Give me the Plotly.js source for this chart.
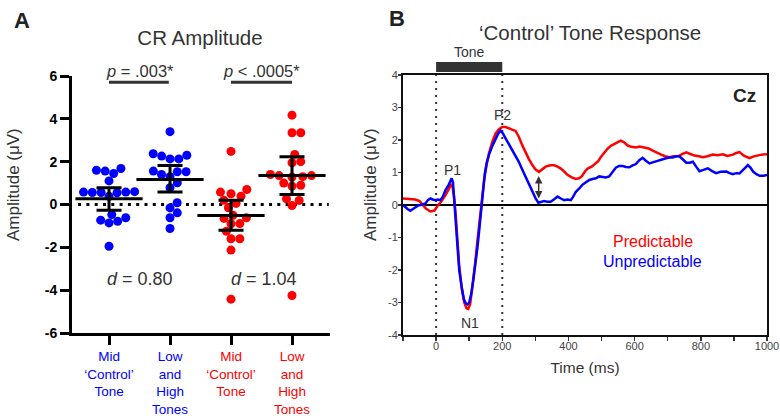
<!DOCTYPE html>
<html><head><meta charset="utf-8">
<script src="https://cdn.plot.ly/plotly-3.0.1.min.js"></script>
<style>html,body{margin:0;padding:0;background:#fff}#chart{width:780px;height:420px}</style>
</head><body><div id="chart"></div>
<script>
// ---------- Panel A data (CR Amplitude, µV) ----------
const groupTickLines = [
  ["Mid", "\u2018Control\u2019", "Tone"],
  ["Low", "and", "High", "Tones"],
  ["Mid", "\u2018Control\u2019", "Tone"],
  ["Low", "and", "High", "Tones"]
];
const groupColors = ["#0000ff", "#0000ff", "#ff0000", "#ff0000"];
const blueMid     = [1.68, 1.60, 1.56, 1.45, 1.10, 0.60, 0.58, 0.58, 0.56, 0.56, 0.55, 0.38, -0.47, -0.62, -0.73, -0.78, -0.86, -1.95];
const blueLowHigh = [3.40, 2.37, 2.30, 2.26, 2.13, 2.13, 1.56, 1.53, 1.53, 1.40, 1.30, 1.01, 0.78, 0.08, -0.16, -0.39, -0.62, -1.12];
const redMid      = [2.48, 0.70, 0.58, 0.50, 0.39, 0.20, 0.05, -0.15, -0.50, -0.62, -0.65, -0.89, -0.90, -1.25, -1.60, -1.60, -2.13, -4.42];
const redLowHigh  = [4.17, 3.35, 3.35, 2.34, 2.00, 1.95, 1.40, 1.35, 1.35, 1.30, 1.28, 1.00, 0.90, 0.86, 0.27, 0.19, -0.05, -4.25];
const groupMeans  = [0.27, 1.17, -0.51, 1.35];
const groupCILow  = [-0.27, 0.58, -1.20, 0.47];
const groupCIHigh = [0.78, 1.82, 0.20, 2.23];
const aYTicks = [-6, -4, -2, 0, 2, 4, 6];
const aYTickText = ["-6", "-4", "-2", "0", "2", "4", "6"];
const pLabels = ["<i>p</i> = .003*", "<i>p</i> < .0005*"];
const dLabels = ["<i>d</i> = 0.80", "<i>d</i> = 1.04"];

// ---------- Panel B data ('Control' tone ERP at Cz) ----------
const bYTicks = [-4, -3, -2, -1, 0, 1, 2, 3, 4];
const bYTickText = ["-4", "-3", "-2", "-1", "0", "1", "2", "3", "4"];
const predTime = [-100,-80,-63,-50,-40,-30,-17,-5,5,15,28,38,45,50,55,60,65,70,78,85,92,97,103,110,118,125,132,138,145,152,160,170,180,190,200,210,220,230,240,250,260,270,280,291,300,311,320,331,345,357,367,377,387,397,410,422,432,440,450,458,470,478,490,498,508,518,528,538,548,558,568,579,590,604,615,630,642,655,668,680,692,705,718,731,745,756,768,781,795,806,820,836,850,867,880,897,907,917,930,947,958,968,983,1000];
const predAmp  = [0.20,0.19,0.17,0.12,0.00,-0.12,-0.20,-0.17,-0.02,0.10,0.30,0.50,0.62,0.55,0.20,-0.40,-1.20,-1.90,-2.60,-3.00,-3.18,-3.20,-3.05,-2.50,-1.80,-1.10,-0.40,0.10,0.75,1.20,1.60,1.95,2.20,2.33,2.40,2.40,2.35,2.32,2.28,2.10,1.85,1.62,1.42,1.23,1.10,1.02,1.10,1.18,1.22,1.22,1.18,1.12,1.03,0.93,0.85,0.80,0.82,0.88,1.03,1.12,1.18,1.24,1.35,1.48,1.62,1.73,1.82,1.88,1.93,1.98,1.93,1.83,1.79,1.77,1.80,1.76,1.74,1.67,1.60,1.55,1.50,1.47,1.50,1.50,1.57,1.62,1.57,1.52,1.50,1.47,1.50,1.55,1.53,1.56,1.51,1.55,1.60,1.63,1.52,1.44,1.49,1.52,1.55,1.56];
const unpredTime = [-100,-92,-85,-78,-70,-63,-55,-47,-40,-32,-25,-17,-10,-2,5,13,20,28,38,44,47,51,54,58,62,66,70,77,84,90,95,100,106,112,119,125,131,136,141,147,153,160,170,180,188,195,202,210,220,230,240,250,260,270,280,291,300,309,317,326,336,346,357,367,377,387,397,407,414,422,432,442,453,463,473,483,493,503,513,523,533,543,553,564,574,584,594,604,614,624,634,645,657,670,682,695,705,715,725,735,746,756,766,776,786,796,808,821,833,846,860,877,887,897,907,917,930,942,950,958,968,978,990,1000];
const unpredAmp  = [0.00,-0.08,-0.13,-0.18,-0.12,-0.07,-0.02,0.00,0.03,0.05,0.15,0.20,0.17,0.15,0.17,0.15,0.25,0.45,0.62,0.75,0.82,0.70,0.35,-0.30,-0.90,-1.50,-2.00,-2.50,-2.90,-3.03,-3.06,-3.00,-2.75,-2.35,-1.85,-1.30,-0.70,-0.15,0.40,0.95,1.30,1.55,1.82,2.05,2.20,2.29,2.20,2.05,1.87,1.70,1.52,1.33,1.10,0.88,0.65,0.42,0.22,0.07,0.10,0.12,0.10,0.10,0.18,0.26,0.20,0.15,0.17,0.15,0.25,0.40,0.50,0.62,0.70,0.77,0.80,0.82,0.88,0.87,0.85,0.88,1.00,1.15,1.20,1.20,1.17,1.16,1.22,1.26,1.38,1.45,1.36,1.28,1.32,1.36,1.42,1.44,1.46,1.46,1.50,1.50,1.40,1.30,1.30,1.33,1.18,1.04,1.08,1.13,1.05,0.98,1.02,1.03,0.98,0.95,0.98,0.97,1.10,1.23,1.15,1.03,0.95,0.90,0.90,0.92];

// ---------- layout helpers ----------
const W = 780, H = 420;
const px = x => x / W, py = y => 1 - y / H;
const FONT = "Liberation Sans, Arial, Helvetica, sans-serif";
const A_XRANGE = [-0.607, 3.623], A_YRANGE = [-6, 6];
const A_XPX = (330 - 72) / (A_XRANGE[1] - A_XRANGE[0]);
const A_YPX = (333 - 76) / (A_YRANGE[1] - A_YRANGE[0]);

// beeswarm offsets (in px) so dots do not overlap
function swarm(vals, diam) {
  const order = vals.map((v, i) => i).sort((a, b) => vals[a] - vals[b]);
  const placed = [], off = new Array(vals.length);
  for (const i of order) {
    const y = vals[i] * A_YPX;
    const ivs = [];
    for (const p of placed) {
      const dy = Math.abs(p.y - y);
      if (dy < diam) { const dx = Math.sqrt(diam * diam - dy * dy); ivs.push([p.x - dx, p.x + dx]); }
    }
    const cands = [0];
    ivs.forEach(iv => cands.push(iv[0], iv[1]));
    cands.sort((a, b) => Math.abs(a) - Math.abs(b) || b - a);
    let x = 0;
    for (const c of cands) {
      if (ivs.every(iv => c <= iv[0] + 1e-6 || c >= iv[1] - 1e-6)) { x = c; break; }
    }
    placed.push({ x, y }); off[i] = x;
  }
  return off;
}

const traces = [];
const groups = [blueMid, blueLowHigh, redMid, redLowHigh];
groups.forEach((vals, g) => {
  const off = swarm(vals, 8.8);
  traces.push({
    type: "scatter", mode: "markers", xaxis: "x", yaxis: "y",
    x: off.map(o => g + o / A_XPX), y: vals,
    marker: { color: groupColors[g], size: 9 }, showlegend: false, hoverinfo: "skip"
  });
});
traces.push({
  type: "scatter", mode: "markers", xaxis: "x", yaxis: "y",
  x: [0, 1, 2, 3], y: groupMeans,
  marker: { symbol: "line-ew", size: 48, color: "#000", line: { width: 3, color: "#000" } },
  error_y: {
    type: "data", symmetric: false,
    array: groupCIHigh.map((h, i) => h - groupMeans[i]),
    arrayminus: groupMeans.map((m, i) => m - groupCILow[i]),
    width: 12.5, thickness: 3, color: "#000"
  },
  showlegend: false, hoverinfo: "skip"
});
traces.push({
  type: "scatter", mode: "lines", xaxis: "x2", yaxis: "y2", name: "Predictable",
  x: predTime, y: predAmp, line: { color: "#ff0000", width: 2.5 }, showlegend: false
});
traces.push({
  type: "scatter", mode: "lines", xaxis: "x2", yaxis: "y2", name: "Unpredictable",
  x: unpredTime, y: unpredAmp, line: { color: "#0000ff", width: 2.5 }, showlegend: false
});

const tickText = groupTickLines.map((lines, i) =>
  lines.map(l => '<span style="color:' + groupColors[i] + '">' + l + '</span>').join("<br>"));

const ann = (o) => Object.assign({ showarrow: false, xanchor: "center", yanchor: "middle",
  font: { family: FONT, size: 16, color: "#333" } }, o);
const annotations = [
  ann({ xref: "paper", yref: "paper", x: px(22), y: py(20), text: "<b>A</b>", font: { family: FONT, size: 22, color: "#222" } }),
  ann({ xref: "paper", yref: "paper", x: px(397), y: py(19), text: "<b>B</b>", font: { family: FONT, size: 22, color: "#222" } }),
  ann({ xref: "paper", yref: "paper", x: px(590), y: py(33), text: "\u2018Control\u2019 Tone Response", font: { family: FONT, size: 20.5, color: "#333" } }),
  ann({ xref: "paper", yref: "paper", x: px(13), y: py(185), text: "Amplitude (\u03bcV)", textangle: -90, font: { family: FONT, size: 17, color: "#333" } }),
  ann({ xref: "paper", yref: "paper", x: px(370), y: py(185), text: "Amplitude (\u03bcV)", textangle: -90, font: { family: FONT, size: 17, color: "#333" } }),
  ann({ xref: "x", yref: "paper", x: 0.5, y: py(71), text: pLabels[0], font: { family: FONT, size: 16.5, color: "#333" } }),
  ann({ xref: "x", yref: "paper", x: 2.5, y: py(71), text: pLabels[1], font: { family: FONT, size: 16.5, color: "#333" } }),
  ann({ xref: "x", yref: "y", x: 0.51, y: -3.5, text: dLabels[0], font: { family: FONT, size: 18, color: "#333" } }),
  ann({ xref: "x", yref: "y", x: 2.54, y: -3.5, text: dLabels[1], font: { family: FONT, size: 18, color: "#333" } }),
  ann({ xref: "x2", yref: "paper", x: 100, y: py(52), text: "Tone", font: { family: FONT, size: 14, color: "#333" } }),
  ann({ xref: "x2", yref: "y2", x: 49, y: 1.08, text: "P1", font: { family: FONT, size: 14, color: "#333" } }),
  ann({ xref: "x2", yref: "y2", x: 200, y: 2.77, text: "P2", font: { family: FONT, size: 14, color: "#333" } }),
  ann({ xref: "x2", yref: "y2", x: 101, y: -3.62, text: "N1", font: { family: FONT, size: 14, color: "#333" } }),
  ann({ xref: "x2", yref: "y2", x: 932, y: 3.38, text: "<b>Cz</b>", font: { family: FONT, size: 19, color: "#222" } }),
  ann({ xref: "x2", yref: "y2", x: 654, y: -1.13, text: "Predictable", font: { family: FONT, size: 16, color: "#ff0000" } }),
  ann({ xref: "x2", yref: "y2", x: 654, y: -1.74, text: "Unpredictable", font: { family: FONT, size: 16, color: "#0000ff" } }),
  { xref: "x2", yref: "y2", axref: "x2", ayref: "y2", x: 310, y: 0.2, ax: 310, ay: 0.94, text: "",
    showarrow: true, arrowhead: 2, startarrowhead: 2, arrowside: "end+start", arrowsize: 1, startarrowsize: 1,
    arrowwidth: 1.5, arrowcolor: "#333" }
];

const shapes = [
  { type: "line", xref: "x", yref: "y", x0: A_XRANGE[0] + 0.1, x1: A_XRANGE[1] - 0.02, y0: 0, y1: 0,
    line: { color: "#000", width: 3, dash: "3px,5.3px" }, layer: "below" },
  { type: "line", xref: "x", yref: "y", x0: 0, x1: 0.98, y0: 5.71, y1: 5.71, line: { color: "#333", width: 3 } },
  { type: "line", xref: "x", yref: "y", x0: 2, x1: 3, y0: 5.71, y1: 5.71, line: { color: "#333", width: 3 } },
  { type: "line", xref: "x2", yref: "y2", x0: 0, x1: 0, y0: -4, y1: 4, line: { color: "#333", width: 2, dash: "2px,5px" }, layer: "below" },
  { type: "line", xref: "x2", yref: "y2", x0: 200, x1: 200, y0: -4, y1: 4, line: { color: "#333", width: 2, dash: "2px,5px" }, layer: "below" },
  { type: "rect", xref: "x2", yref: "paper", x0: 0, x1: 200, y0: py(72), y1: py(62), fillcolor: "#333", line: { width: 0 } }
];

const layout = {
  width: W, height: H, margin: { l: 0, r: 0, t: 0, b: 0 },
  paper_bgcolor: "#fff", plot_bgcolor: "#fff", showlegend: false,
  font: { family: FONT, color: "#333" },
  title: { text: "CR Amplitude", xref: "paper", yref: "paper", x: px(200), xanchor: "center", y: py(38), yanchor: "middle",
    font: { family: FONT, size: 20.5, color: "#333" } },
  xaxis: {
    domain: [px(72), px(330)], range: A_XRANGE, anchor: "y",
    tickmode: "array", tickvals: [0, 1, 2, 3], ticktext: tickText, tickfont: { family: FONT, size: 13.5 },
    ticks: "outside", ticklen: 9, tickwidth: 3, tickcolor: "#000",
    showline: true, linewidth: 3, linecolor: "#000", showgrid: false, zeroline: false, automargin: false
  },
  yaxis: {
    domain: [py(333), py(76)], range: A_YRANGE, anchor: "x",
    tickmode: "array", tickvals: aYTicks, ticktext: aYTickText, tickfont: { family: FONT, size: 14, color: "#000", weight: "bold" },
    ticks: "outside", ticklen: 9, tickwidth: 3, tickcolor: "#000", ticklabelstandoff: 0,
    showline: true, linewidth: 3, linecolor: "#000", showgrid: false, zeroline: false, automargin: false
  },
  xaxis2: {
    domain: [px(403), px(767)], range: [-100, 1000], anchor: "y2",
    tick0: 0, dtick: 200, ticks: "outside", ticklen: 4, tickwidth: 1.5, tickcolor: "#333", ticklabelstandoff: -4,
    minor: { dtick: 100, ticks: "outside", ticklen: 4, tickwidth: 1.5, tickcolor: "#333", showgrid: false },
    tickfont: { family: FONT, size: 11, color: "#444" },
    showline: true, mirror: true, linewidth: 2, linecolor: "#111", showgrid: false, zeroline: false, automargin: false,
    title: { text: "Time (ms)", standoff: 11, font: { family: FONT, size: 15.5, color: "#333" } }
  },
  yaxis2: {
    domain: [py(335), py(75)], range: [-4, 4], anchor: "x2",
    tickmode: "array", tickvals: bYTicks, ticktext: bYTickText,
    ticks: "outside", ticklen: 3, tickwidth: 1.5, tickcolor: "#333", ticklabelstandoff: -2,
    tickfont: { family: FONT, size: 11, color: "#444" },
    showline: true, mirror: true, linewidth: 2, linecolor: "#111", showgrid: false,
    zeroline: true, zerolinecolor: "#000", zerolinewidth: 1.5, automargin: false
  },
  annotations, shapes
};

Plotly.newPlot("chart", traces, layout, { staticPlot: true, displayModeBar: false });
</script></body></html>
